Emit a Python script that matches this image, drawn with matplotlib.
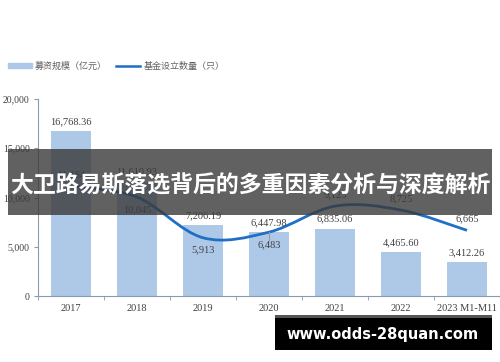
"""Fund raising scale vs. number of funds established, with overlay banner."""

import matplotlib.pyplot as plt
import matplotlib.patches as mpatches
from matplotlib.path import Path
import numpy as np

plt.rcParams["font.family"] = ["Liberation Serif", "Noto Sans CJK SC", "DejaVu Sans"]

years = ["2017", "2018", "2019", "2020", "2021", "2022", "2023 M1-M11"]
raise_scale = [16768.36, 11610.93, 7206.19, 6447.98, 6835.06, 4465.60, 3412.26]
fund_count = [11164, 10045, 5913, 6483, 9125, 8725, 6665]
count_above = [True, False, False, False, True, True, True]

legend_labels = ["募资规模（亿元）", "基金设立数量（只）"]
banner_text = "大卫路易斯落选背后的多重因素分析与深度解析"
watermark = "www.odds-28quan.com"

bar_color = "#aec8e8"
line_color = "#1f6fc5"
text_color = "#404040"
axis_color = "#8a9aa8"

fig = plt.figure(figsize=(5.0, 3.62), dpi=100)
ax = fig.add_axes([38 / 500, 1 - 296 / 362, 462 / 500, 197 / 362])

x = np.arange(len(years))
ax.bar(x, raise_scale, width=0.62, color=bar_color, zorder=2)

# smooth line through the points (Catmull-Rom -> cubic Bezier)
pts = np.column_stack([x, fund_count]).astype(float)
verts = [tuple(pts[0])]
codes = [Path.MOVETO]
for i in range(len(pts) - 1):
    p0 = pts[max(i - 1, 0)]
    p1 = pts[i]
    p2 = pts[i + 1]
    p3 = pts[min(i + 2, len(pts) - 1)]
    c1 = p1 + (p2 - p0) / 6
    c2 = p2 - (p3 - p1) / 6
    verts += [tuple(c1), tuple(c2), tuple(p2)]
    codes += [Path.CURVE4] * 3
ax.add_patch(mpatches.PathPatch(Path(verts, codes), fill=False,
                                edgecolor=line_color, lw=2, zorder=3))

for xi, v in zip(x, raise_scale):
    ax.text(xi, v + 500, f"{v:,.2f}", ha="center", va="bottom",
            fontsize=7.5, color=text_color, zorder=4)

for xi, v, up in zip(x, fund_count, count_above):
    if up:
        ax.text(xi, v + 700, f"{v:,}", ha="center", va="bottom",
                fontsize=7.5, color=text_color, zorder=4)
    else:
        ax.text(xi, v - 800, f"{v:,}", ha="center", va="top",
                fontsize=7.5, color=text_color, zorder=4)

# small leader line under the 2020 point
ax.plot([x[3], x[3]], [fund_count[3], fund_count[3] - 800],
        color="#999999", lw=0.8, zorder=4)

ax.set_xlim(-0.5, len(years) - 0.5)
ax.set_ylim(0, 20000)
ax.set_yticks([0, 5000, 10000, 15000, 20000])
ax.set_yticklabels([f"{t:,}" for t in [0, 5000, 10000, 15000, 20000]])
ax.set_xticks(x)
ax.set_xticklabels(years)
ax.set_xticks(np.arange(-0.5, len(years)), minor=True)
ax.tick_params(axis="x", which="major", length=0, pad=6, labelsize=7.5,
               labelcolor=text_color)
ax.tick_params(axis="x", which="minor", length=3, color=axis_color)
ax.tick_params(axis="y", length=3, color=axis_color, labelsize=7,
               labelcolor=text_color, pad=3)
for side in ["top", "right"]:
    ax.spines[side].set_visible(False)
for side in ["left", "bottom"]:
    ax.spines[side].set_color(axis_color)

# legend
handles = [mpatches.Patch(color=bar_color),
           plt.Line2D([], [], color=line_color, lw=1.8)]
fig.legend(handles, legend_labels, loc="center left",
           bbox_to_anchor=(0.0, 1 - 66 / 362), ncol=2, frameon=False,
           labelcolor="#606060", handlelength=2.6, handletextpad=0.4,
           handleheight=0.6, columnspacing=1.0,
           prop={"family": ["Noto Sans CJK SC"], "size": 6.5})

# overlay banner
fig.patches.append(mpatches.Rectangle((8 / 500, 1 - 215 / 362), 484 / 500, 66 / 362,
                                      transform=fig.transFigure,
                                      facecolor="#3a3a3a", alpha=0.8, zorder=10))
fig.text(250 / 500, 1 - 186 / 362, banner_text, ha="center", va="center",
         color="white", fontsize=16.5, fontweight="bold",
         family=["Noto Sans CJK SC"], zorder=11)

# watermark box
fig.patches.append(mpatches.Rectangle((275 / 500, 1 - 350 / 362), 217 / 500, 35 / 362,
                                      transform=fig.transFigure,
                                      facecolor="black", zorder=10))
fig.patches.append(mpatches.Rectangle((275 / 500, 1 - 318 / 362), 217 / 500, 3 / 362,
                                      transform=fig.transFigure,
                                      facecolor="#555555", zorder=10))
fig.text(383 / 500, 1 - 334 / 362, watermark, ha="center", va="center",
         color="white", fontsize=10.5, fontweight="bold",
         family=["DejaVu Sans"], zorder=11)

fig.savefig("out.png", dpi=100)
plt.close()
